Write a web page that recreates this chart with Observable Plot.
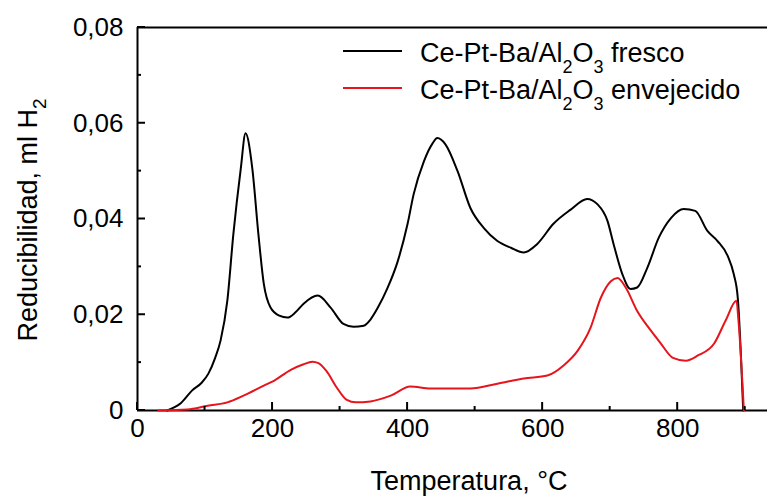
<!DOCTYPE html>
<html><head><meta charset="utf-8">
<script src="https://cdn.jsdelivr.net/npm/d3@7"></script>
<script src="https://cdn.jsdelivr.net/npm/@observablehq/plot@0.6"></script>
<style>body{margin:0;background:#fff}</style>
</head><body><div id="chart"></div>
<script>
// Ce-Pt-Ba/Al2O3 fresco (black)
const freshT = [44,64,81,95,105,115,123,133,142,153,160,170,179,187,197,210,222,234,246,267,286,305,320,335,345,356,370,385,400,409,424,437,444,456,474,493,513,533,553,572,592,616,641,666,681,696,705,718,730,740,755,772,790,809,826,844,859,874,883,889,897];
const freshV = [0,0.0015,0.0042,0.0058,0.0077,0.011,0.0146,0.0229,0.0369,0.0506,0.0579,0.0506,0.0369,0.0265,0.0215,0.0198,0.0194,0.0205,0.0223,0.024,0.0215,0.0181,0.0175,0.0177,0.019,0.0215,0.0255,0.031,0.039,0.0452,0.052,0.0558,0.0569,0.0556,0.050,0.0423,0.0381,0.0354,0.034,0.033,0.0348,0.039,0.0419,0.0442,0.0431,0.0396,0.0348,0.0285,0.0254,0.0257,0.0298,0.0361,0.0402,0.0421,0.0417,0.0375,0.0354,0.0323,0.0285,0.0235,0];
// Ce-Pt-Ba/Al2O3 envejecido (red)
const agedT = [31,74,104,133,157,187,202,227,245,259,268,280,295,310,323,345,375,404,434,493,533,572,607,631,652,671,686,701,711,723,740,757,774,793,812,830,854,871,887,890,898];
const agedV = [0,0.0002,0.001,0.0017,0.0031,0.0052,0.0062,0.0085,0.0096,0.0102,0.0099,0.0082,0.0048,0.0022,0.0017,0.0019,0.0031,0.005,0.0046,0.0046,0.0056,0.0067,0.0073,0.0094,0.0125,0.0173,0.0235,0.027,0.0277,0.0257,0.0208,0.0173,0.0142,0.011,0.0104,0.0115,0.014,0.0188,0.0229,0.0188,0];

const xMajor = [0,200,400,600,800];
const xMajorLabels = ["0","200","400","600","800"];
const xMinor = [100,300,500,700,900];
const yMajor = [0,0.02,0.04,0.06,0.08];
const yMajorLabels = ["0","0,02","0,04","0,06","0,08"];
const yMinor = [0.01,0.03,0.05,0.07];
const xDomain = [0,933];
const yDomain = [0,0.08];

const xTitle = "Temperatura, °C";
const yTitleParts = ["Reducibilidad, ml H","2"];
const legendParts = [["Ce-Pt-Ba/Al","2","O","3"," fresco"],["Ce-Pt-Ba/Al","2","O","3"," envejecido"]];
const seriesColors = ["#000000","#e6141b"];

const fresh = freshT.map((t,i)=>({t, v: freshV[i]}));
const aged = agedT.map((t,i)=>({t, v: agedV[i]}));
const xLab = new Map(xMajor.map((d,i)=>[d,xMajorLabels[i]]));
const yLab = new Map(yMajor.map((d,i)=>[d,yMajorLabels[i]]));
const font = "'Liberation Sans', Arial, sans-serif";

const svg = Plot.plot({
  width: 767, height: 497,
  marginLeft: 137, marginRight: 0, marginTop: 27, marginBottom: 87,
  style: {fontFamily: font, fontSize: "26px", color: "#000", background: "#fff", overflow: "visible"},
  x: {domain: xDomain},
  y: {domain: yDomain},
  marks: [
    Plot.axisX(xMajor, {tickSize: 0, tickPadding: 8, tickFormat: d => xLab.get(d), label: null}),
    Plot.axisY(yMajor, {tickSize: 0, tickPadding: 14, tickFormat: d => yLab.get(d), label: null}),
    Plot.ruleX([xDomain[0]], {strokeWidth: 2}),
    Plot.ruleY(yDomain, {strokeWidth: 2}),
    Plot.line(fresh, {x: "t", y: "v", stroke: seriesColors[0], strokeWidth: 2, curve: "monotone-x"}),
    Plot.line(aged, {x: "t", y: "v", stroke: seriesColors[1], strokeWidth: 2, curve: "monotone-x"})
  ]
});
document.getElementById("chart").appendChild(svg);

const s = d3.select(svg);
// inward ticks placed through Plot's own scales
const sx = svg.scale("x"), sy = svg.scale("y");
const y0 = sy.apply(yDomain[0]), x0 = sx.apply(xDomain[0]);
const tg = s.append("g").attr("stroke", "#000").attr("stroke-width", 2);
[[xMajor, 8], [xMinor, 4]].forEach(([vals, len]) => vals.forEach(v => {
  const px = sx.apply(v);
  tg.append("line").attr("x1", px).attr("x2", px).attr("y1", y0).attr("y2", y0 - len);
}));
[[yMajor, 8], [yMinor, 4]].forEach(([vals, len]) => vals.forEach(v => {
  const py = sy.apply(v);
  tg.append("line").attr("x1", x0).attr("x2", x0 + len).attr("y1", py).attr("y2", py);
}));

// x title
s.append("text").attr("x", 469).attr("y", 490).attr("text-anchor", "middle")
  .attr("font-size", 27).attr("font-family", font).attr("fill", "#000").text(xTitle);
// y title
const yt = s.append("text").attr("transform", "translate(37,220) rotate(-90)")
  .attr("text-anchor", "middle").attr("font-size", 27).attr("font-family", font).attr("fill", "#000");
yt.append("tspan").text(yTitleParts[0]);
yt.append("tspan").attr("font-size", 19).attr("dy", 9).text(yTitleParts[1]);

// legend
const legendY = [62, 99];
legendParts.forEach((parts, k) => {
  const by = legendY[k];
  s.append("line").attr("x1", 343).attr("x2", 402).attr("y1", by - 11).attr("y2", by - 11)
    .attr("stroke", seriesColors[k]).attr("stroke-width", 2);
  const t = s.append("text").attr("x", 420).attr("y", by).attr("font-size", 27)
    .attr("text-anchor", "start").attr("font-family", font).attr("fill", "#000");
  t.append("tspan").text(parts[0]);
  t.append("tspan").attr("font-size", 18).attr("dy", 11).text(parts[1]);
  t.append("tspan").attr("dy", -11).text(parts[2]);
  t.append("tspan").attr("font-size", 18).attr("dy", 11).text(parts[3]);
  t.append("tspan").attr("dy", -11).text(parts[4]);
});
</script>
</body></html>
